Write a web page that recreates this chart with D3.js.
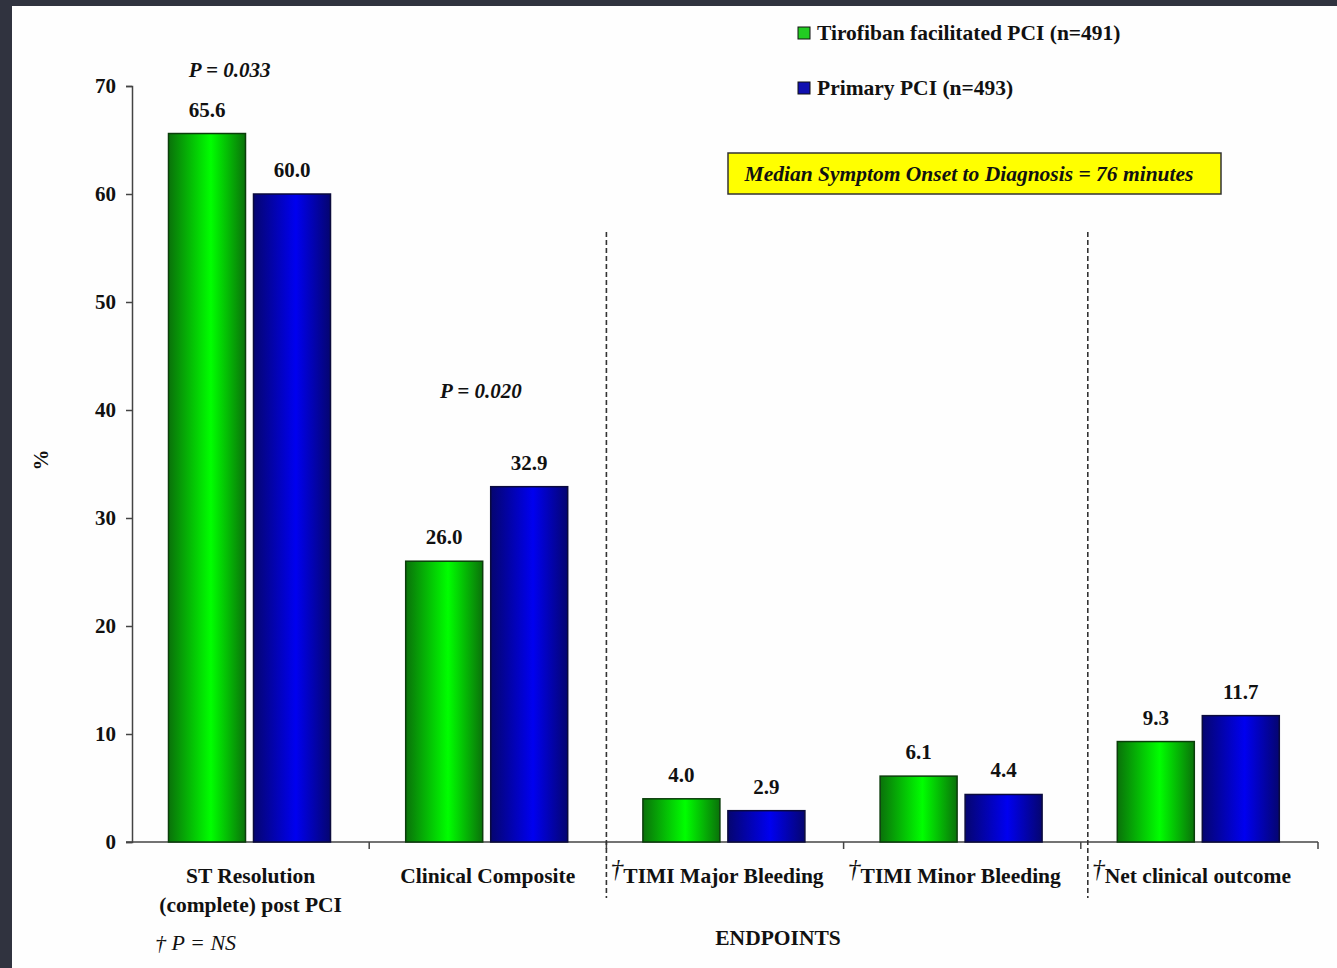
<!DOCTYPE html>
<html>
<head>
<meta charset="utf-8">
<script src="https://cdn.jsdelivr.net/npm/d3@7"></script>
<style>
  html, body { margin: 0; padding: 0; background: #30333f; }
  svg { display: block; }
  text { font-family: "Liberation Serif", "Times New Roman", serif; fill: #111; }
</style>
</head>
<body>
<svg id="chart" width="1337" height="968"></svg>
<script>
// ---- data ----
const categories = ["ST Resolution|(complete) post PCI", "Clinical Composite", "TIMI Major Bleeding", "TIMI Minor Bleeding", "Net clinical outcome"];
const daggered = [false, false, true, true, true];
const seriesNames = ["Tirofiban facilitated PCI (n=491)", "Primary PCI (n=493)"];
const tirofibanValues = [65.6, 26.0, 4.0, 6.1, 9.3];
const primaryValues = [60.0, 32.9, 2.9, 4.4, 11.7];
const yTicks = [0, 10, 20, 30, 40, 50, 60, 70];
const pAnnotations = [{cat: 0, text: "P = 0.033", value: 70.8}, {cat: 1, text: "P = 0.020", value: 41.1}];

const svg = d3.select("#chart");
svg.append("rect").attr("x", 12).attr("y", 6).attr("width", 1337 - 12).attr("height", 968 - 6).attr("fill", "#fefefe");

const x0 = d3.scaleBand().domain(categories).range([132, 1318]).paddingInner(0).paddingOuter(0);
const x1 = d3.scaleBand().domain(seriesNames).range([36.5, 198.5]).paddingInner(8 / 85);
const y = d3.scaleLinear().domain([0, 70]).range([842, 86]);

const defs = svg.append("defs");
function grad(id, edge, mid) {
  const g = defs.append("linearGradient").attr("id", id).attr("x1", "0%").attr("x2", "100%").attr("y1", "0%").attr("y2", "0%");
  g.append("stop").attr("offset", "0%").attr("stop-color", edge);
  g.append("stop").attr("offset", "55%").attr("stop-color", mid);
  g.append("stop").attr("offset", "100%").attr("stop-color", edge);
}
grad("gGreen", "#0a720a", "#00ff00");
grad("gBlue", "#050570", "#0000f0");
const fills = ["url(#gGreen)", "url(#gBlue)"];
const strokes = ["#0b3d0b", "#0b0b3d"];

// y axis
const yAxis = d3.axisLeft(y).tickValues(yTicks).tickSize(6).tickPadding(10).tickFormat(d3.format("d"));
const gy = svg.append("g").attr("transform", "translate(132,0)").call(yAxis);
gy.select(".domain").attr("stroke", "#444").attr("stroke-width", 1.5);
gy.selectAll(".tick line").attr("stroke", "#444").attr("stroke-width", 1.5);
gy.selectAll(".tick text").attr("font-family", "Liberation Serif").attr("font-weight", "bold").attr("font-size", 21).attr("fill", "#111");

// x axis line and boundary ticks
svg.append("line").attr("x1", 126).attr("x2", x0.range()[1]).attr("y1", y(0)).attr("y2", y(0)).attr("stroke", "#444").attr("stroke-width", 1.5);
const boundaries = categories.map(c => x0(c) + x0.bandwidth());
svg.selectAll("line.xtick").data(boundaries).join("line").attr("class", "xtick")
  .attr("x1", d => d).attr("x2", d => d).attr("y1", y(0)).attr("y2", y(0) + 7)
  .attr("stroke", "#444").attr("stroke-width", 1.5);

// dashed separators
const sepX = [x0(categories[2]), x0(categories[4]) + 7];
svg.selectAll("line.sep").data(sepX).join("line").attr("class", "sep")
  .attr("x1", d => d).attr("x2", d => d).attr("y1", 232).attr("y2", 898)
  .attr("stroke", "#333").attr("stroke-width", 1.6).attr("stroke-dasharray", "5,3");

// bars
const rows = categories.map((c, i) => ({cat: c, vals: [tirofibanValues[i], primaryValues[i]]}));
const groups = svg.selectAll("g.cat").data(rows).join("g").attr("class", "cat")
  .attr("transform", d => `translate(${x0(d.cat)},0)`);
groups.selectAll("rect").data(d => d.vals.map((v, j) => ({v, j}))).join("rect")
  .attr("x", d => x1(seriesNames[d.j]))
  .attr("width", x1.bandwidth())
  .attr("y", d => y(d.v))
  .attr("height", d => y(0) - y(d.v))
  .attr("fill", d => fills[d.j])
  .attr("stroke", d => strokes[d.j]).attr("stroke-width", 1.5);
groups.selectAll("text.val").data(d => d.vals.map((v, j) => ({v, j}))).join("text").attr("class", "val")
  .attr("x", d => x1(seriesNames[d.j]) + x1.bandwidth() / 2)
  .attr("y", d => y(d.v) - 17)
  .attr("text-anchor", "middle").attr("font-weight", "bold").attr("font-size", 21)
  .text(d => d.v.toFixed(1));

// P annotations
svg.selectAll("text.pann").data(pAnnotations).join("text").attr("class", "pann")
  .attr("x", d => x0(categories[d.cat]) + x0.bandwidth() / 2 - 21 + (d.cat === 1 ? 14 : 0))
  .attr("y", d => y(d.value))
  .attr("text-anchor", "middle").attr("font-weight", "bold").attr("font-style", "italic").attr("font-size", 21)
  .text(d => d.text);

// category labels
categories.forEach((c, i) => {
  const cx = x0(c) + x0.bandwidth() / 2;
  const lines = c.split("|");
  const t = svg.append("text").attr("x", cx - (daggered[i] ? 8 : 0)).attr("y", 883)
    .attr("text-anchor", "middle").attr("font-weight", "bold").attr("font-size", 21.5);
  if (daggered[i]) {
    t.append("tspan").attr("font-style", "italic").attr("font-weight", "normal").attr("font-size", 26).attr("dy", -6).text("†");
    t.append("tspan").attr("dy", 6).text(lines[0]);
  } else {
    t.append("tspan").text(lines[0]);
  }
  if (lines[1]) {
    svg.append("text").attr("x", cx).attr("y", 912).attr("text-anchor", "middle")
      .attr("font-weight", "bold").attr("font-size", 21.5).text(lines[1]);
  }
});

// footnote & x title
svg.append("text").attr("x", 155).attr("y", 950).attr("font-style", "italic").attr("font-size", 22).text("† P = NS");
svg.append("text").attr("x", 778).attr("y", 945).attr("text-anchor", "middle").attr("font-weight", "bold").attr("font-size", 21.5).text("ENDPOINTS");

// y title
svg.append("text").attr("transform", "translate(48,460) rotate(-90)").attr("text-anchor", "middle")
  .attr("font-weight", "bold").attr("font-size", 21).text("%");

// legend
const legendColors = ["#22cc22", "#1010b0"];
const lg = svg.selectAll("g.leg").data(seriesNames).join("g").attr("class", "leg")
  .attr("transform", (d, i) => `translate(798,${27 + i * 55})`);
lg.append("rect").attr("width", 12).attr("height", 12).attr("fill", (d, i) => legendColors[i]).attr("stroke", "#111").attr("stroke-width", 1);
lg.append("text").attr("x", 19).attr("y", 13).attr("font-weight", "bold").attr("font-size", 21.5).text(d => d);

// yellow box
svg.append("rect").attr("x", 728).attr("y", 153).attr("width", 493).attr("height", 41)
  .attr("fill", "#ffff00").attr("stroke", "#333").attr("stroke-width", 1.5);
svg.append("text").attr("x", 969).attr("y", 181).attr("text-anchor", "middle").attr("font-weight", "bold").attr("font-style", "italic").attr("font-size", 21.5)
  .text("Median Symptom Onset to Diagnosis = 76 minutes");
</script>
</body>
</html>
